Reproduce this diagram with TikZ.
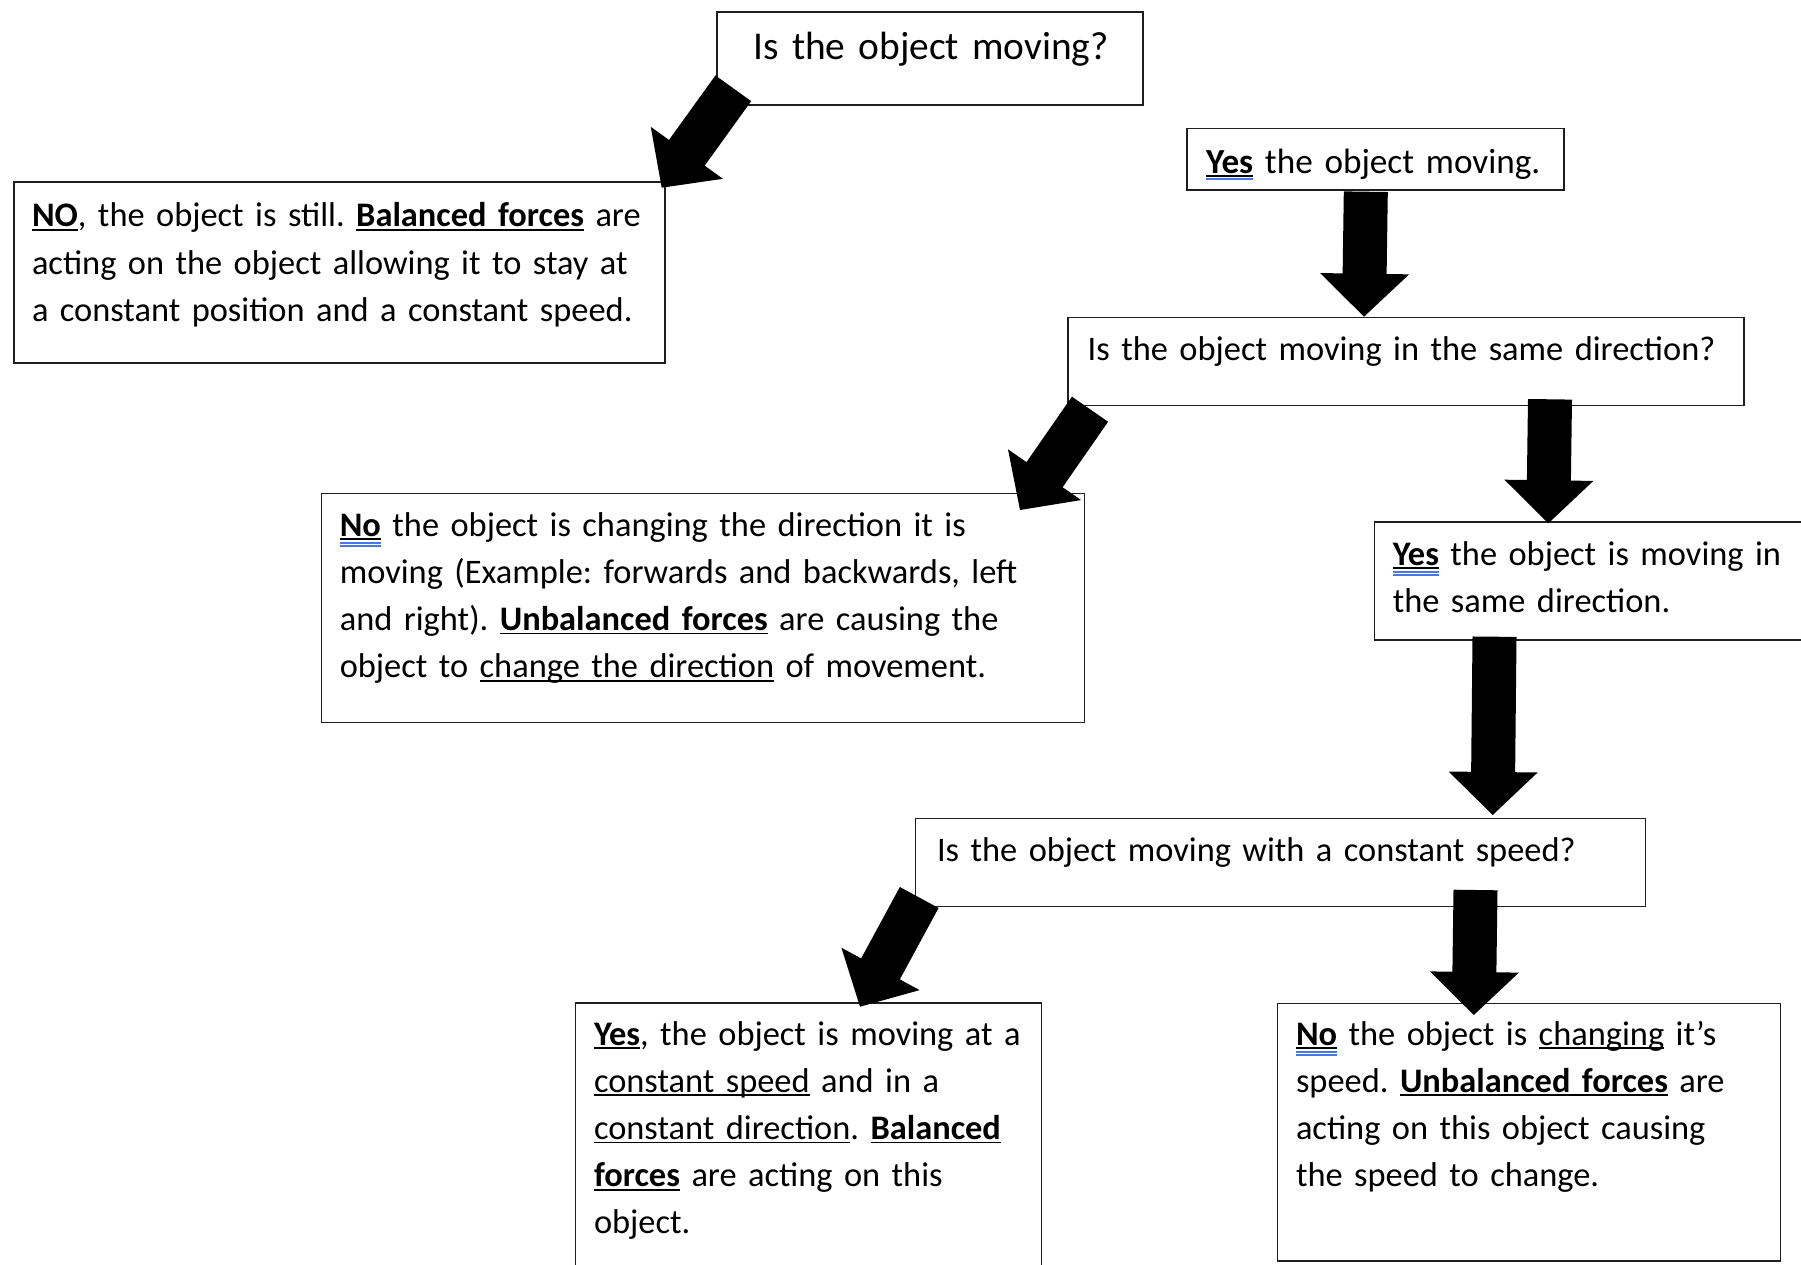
\documentclass[tikz,border=0pt]{standalone}
\usepackage{fontspec}
\setmainfont{Carlito}
\usetikzlibrary{calc}
\setlength\parindent{0pt}
\frenchspacing
\definecolor{spell}{RGB}{72,120,228}
\definecolor{boxline}{RGB}{30,30,30}
\newcommand\fs{\fontsize{34.4}{47.2}\selectfont}
\newcommand\fsa{\fontsize{39.4}{47.2}\selectfont}
\newcommand\fsb{\fontsize{35.2}{47.2}\selectfont}
\newcommand\ulx[1]{\leavevmode\setbox0\hbox{#1}\rlap{\rule[-4pt]{\wd0}{1.8pt}}\box0\relax}
\newcommand\ulb[1]{\leavevmode\setbox0\hbox{#1}\rlap{\rule[-4pt]{\wd0}{1.8pt}}\rlap{\color{spell}\rule[-7.5pt]{\wd0}{1.4pt}}\rlap{\color{spell}\rule[-10.5pt]{\wd0}{1.4pt}}\box0\relax}
\newcommand\ulc[1]{\leavevmode\setbox0\hbox{#1}\rlap{\rule[-4pt]{\wd0}{1.8pt}}\rlap{\color{spell}\rule[-6.5pt]{\wd0}{1.6pt}}\box0\relax}
\newcommand\fl{\rule{0pt}{30pt}}
\newcommand\blockarrow[2]{%
  \coordinate (#1-n) at ($(#2)!43pt!(#1)$);
  \fill[arrowfill] ($(#1)!22pt!90:(#2)$) -- ($(#1-n)!22pt!90:(#2)$) -- ($(#1-n)!44.5pt!90:(#2)$) -- (#2) -- ($(#1-n)!44.5pt!-90:(#2)$) -- ($(#1-n)!22pt!-90:(#2)$) -- ($(#1)!22pt!-90:(#2)$) -- cycle;}
\begin{document}
\begin{tikzpicture}[x=1pt,y=-1pt,
  box/.style={draw=boxline, line width=1.6pt, anchor=north west, inner sep=0pt, outer sep=0pt},
  txt/.style={anchor=north west, inner sep=0pt, outer sep=0pt, align=left, text width=900pt, font=\fs},
  arrowfill/.style={fill=black}]
\useasboundingbox (0,0) rectangle (1801,1265);
\clip (0,0) rectangle (1801,1265);
% boxes
\node[box, minimum width=426pt, minimum height=93pt] (A) at (717,12) {};
\node[box, minimum width=377pt, minimum height=61.5pt] (B) at (1187,128.5) {};
\node[box, minimum width=676pt, minimum height=88pt] (C) at (1068,317.5) {};
\node[box, minimum width=651pt, minimum height=181pt] (D) at (14,182) {};
\node[box, minimum width=763pt, minimum height=229pt] (E) at (321.5,493.5) {};
\node[box, minimum width=520pt, minimum height=118.5pt] (F) at (1374.5,521.7) {};
\node[box, minimum width=730pt, minimum height=88pt] (G) at (915.5,818.3) {};
\node[box, minimum width=466pt, minimum height=320pt] (H) at (575.5,1003) {};
\node[box, minimum width=502.7pt, minimum height=257.7pt] (I) at (1277.6,1003.3) {};
% texts
\node[txt, font=\fsa] (tA) at (753.6,29.3) {\fl Is the object moving?};
\node[txt, font=\fsb] (tB) at (1206,143.3) {\fl\ulc{\textbf{Yes}} the object moving.};
\node[txt] (tC) at (1087.7,330) {\fl Is the object moving in the same direction?};
\node[txt] (tD) at (32,197) {\fl\ulx{\textbf{NO}}, the object is still. \ulx{\textbf{Balanced forces}} are\\
acting on the object allowing it to stay at\\
a constant position and a constant speed.};
\node[txt] (tE) at (339.8,506) {\fl\ulb{\textbf{No}} the object is changing the direction it is\\
moving (Example: forwards and backwards, left\\
and right). \ulx{\textbf{Unbalanced forces}} are causing the\\
object to \ulx{change the direction} of movement.};
\node[txt] (tF) at (1392.8,535) {\fl\ulb{\textbf{Yes}} the object is moving in\\
the same direction.};
\node[txt] (tG) at (937,831.7) {\fl Is the object moving with a constant speed?};
\node[txt] (tH) at (594,1015) {\fl\ulx{\textbf{Yes}}, the object is moving at a\\
\ulx{constant speed} and in a\\
\ulx{constant direction}. \ulx{\textbf{Balanced}}\\
\ulx{\textbf{forces}} are acting on this\\
object.};
\node[txt] (tI) at (1296,1015) {\fl\ulb{\textbf{No}} the object is \ulx{changing} it’s\\
speed. \ulx{\textbf{Unbalanced forces}} are\\
acting on this object causing\\
the speed to change.};
% arrow ends
\coordinate (a1t) at (733.3,88.3);  \coordinate (a1h) at (661.7,187.7);
\coordinate (a2t) at (1365.8,191.7); \coordinate (a2h) at (1364,316.7);
\coordinate (a3t) at (1090,409.2);  \coordinate (a3h) at (1020,510);
\coordinate (a4t) at (1550,399.3);  \coordinate (a4h) at (1548.3,523.3);
\coordinate (a5t) at (1494.5,636.7); \coordinate (a5h) at (1492.7,815);
\coordinate (a6t) at (919.2,897.5); \coordinate (a6h) at (860,1006.7);
\coordinate (a7t) at (1475.5,890);  \coordinate (a7h) at (1473.8,1015);
\blockarrow{a1t}{a1h}
\blockarrow{a2t}{a2h}
\blockarrow{a3t}{a3h}
\blockarrow{a4t}{a4h}
\blockarrow{a5t}{a5h}
\blockarrow{a6t}{a6h}
\blockarrow{a7t}{a7h}
\end{tikzpicture}
\end{document}
